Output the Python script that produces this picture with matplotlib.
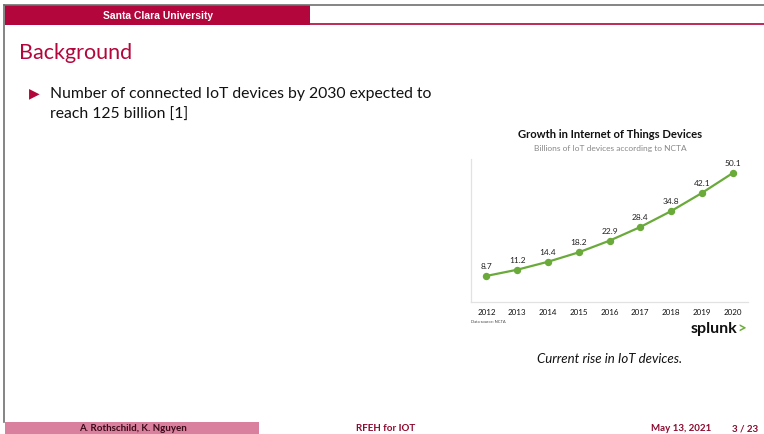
import matplotlib.pyplot as plt
from matplotlib.patches import Rectangle
from matplotlib.lines import Line2D

# 数据
years = [2012, 2013, 2014, 2015, 2016, 2017, 2018, 2019, 2020]
devices = [8.7, 11.2, 14.4, 18.2, 22.9, 28.4, 34.8, 42.1, 50.1]

W, H = 764, 435
crimson = '#B3063C'
green = '#6AAA3A'


def fx(x):
    return x / W


def fy(y):
    return 1 - y / H


fig = plt.figure(figsize=(W / 100, H / 100), dpi=100)

# 幻灯片边框
fig.add_artist(Line2D([fx(4), 1], [fy(6), fy(6)], color='#707070', lw=1.2))
fig.add_artist(Line2D([fx(4), fx(4)], [fy(6), fy(423)], color='#707070', lw=1.2))

# 顶部标题栏
fig.add_artist(Rectangle((fx(5), fy(25.5)), fx(305), 19.5 / H, color=crimson, lw=0))
fig.add_artist(Line2D([fx(310), 1], [fy(24.8), fy(24.8)], color=crimson, lw=1.2))
fig.text(fx(158), fy(16), 'Santa Clara University', color='white', fontsize=7.4,
         fontweight='bold', family='Liberation Sans', ha='center', va='center')

fig.text(fx(19), fy(53), 'Background', color=crimson, fontsize=15.5, family='Lato',
         ha='left', va='center')

fig.text(fx(29), fy(93), '\u25B6', color=crimson, fontsize=10, family='DejaVu Sans',
         ha='left', va='center')
fig.text(fx(50), fy(94), 'Number of connected IoT devices by 2030 expected to',
         fontsize=11.3, family='Lato', ha='left', va='center', color='#111111')
fig.text(fx(50), fy(115), 'reach 125 billion [1]',
         fontsize=11.3, family='Lato', ha='left', va='center', color='#111111')

# 折线图
ax = fig.add_axes([fx(471), fy(303), 277 / W, 143 / H])
ax.plot(years, devices, color=green, lw=1.6, marker='o', markersize=4.3)
for x, y in zip(years, devices):
    ax.annotate('{:.1f}'.format(y), (x, y), xytext=(0, 7.5), textcoords='offset points',
                ha='center', va='center', fontsize=6, family='Lato', color='#222222')
ax.set_xlim(2011.5, 2020.5)
ax.set_ylim(-1.8, 55.8)
ax.set_xticks(years)
ax.set_xticklabels([str(y) for y in years], fontsize=5.8, family='Lato', color='#111111')
ax.tick_params(axis='x', length=0, pad=4)
ax.set_yticks([])
for s in ['top', 'right']:
    ax.spines[s].set_visible(False)
for s in ['left', 'bottom']:
    ax.spines[s].set_color('#e2e2e2')
    ax.spines[s].set_linewidth(0.9)

fig.text(fx(610), fy(134), 'Growth in Internet of Things Devices', fontsize=8.1,
         fontweight='bold', family='Lato', ha='center', va='center', color='#111111')
fig.text(fx(610), fy(148.5), 'Billions of IoT devices according to NCTA', fontsize=6,
         family='Lato', ha='center', va='center', color='#888888')
fig.text(fx(471), fy(322), 'Data source: NCTA', fontsize=3, family='Lato',
         ha='left', va='center', color='#444444')
fig.text(fx(737), fy(329), 'splunk', fontsize=11.5, fontweight='bold', family='Lato',
         ha='right', va='center', color='#111111')
fig.text(fx(737), fy(330), '>', fontsize=11, fontweight='bold', family='Lato',
         ha='left', va='center', color=green)

fig.text(fx(610), fy(359), 'Current rise in IoT devices.', fontsize=9.5, style='italic',
         family='Lato', ha='center', va='center', color='#111111')

# 底部信息栏
fig.add_artist(Rectangle((fx(5), 0), fx(254), 12 / H, color='#D9809E', lw=0))
fig.text(fx(133), fy(429), 'A. Rothschild, K. Nguyen', fontsize=7, fontweight='bold',
         family='Lato', ha='center', va='center', color='#3a0a18')
fig.text(fx(386), fy(429), 'RFEH for IOT', fontsize=7, fontweight='bold',
         family='Lato', ha='center', va='center', color='#8B0A2E')
fig.text(fx(681), fy(429), 'May 13, 2021', fontsize=7, fontweight='bold',
         family='Lato', ha='center', va='center', color='#8B0A2E')
fig.text(fx(745), fy(429), '3 / 23', fontsize=7, fontweight='bold',
         family='Lato', ha='center', va='center', color='#8B0A2E')

fig.savefig('out.png', dpi=100)
